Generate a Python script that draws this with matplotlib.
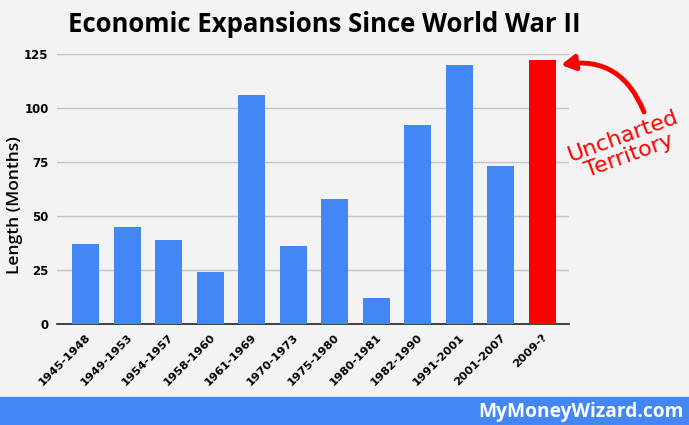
import matplotlib.pyplot as plt

periods = ['1945-1948', '1949-1953', '1954-1957', '1958-1960', '1961-1969',
           '1970-1973', '1975-1980', '1980-1981', '1982-1990', '1991-2001',
           '2001-2007', '2009-?']
months = [37, 45, 39, 24, 106, 36, 58, 12, 92, 120, 73, 122]
bar_colors = ['#4287f5'] * 11 + ['#ff0000']

bg = '#f3f3f3'
fig = plt.figure(figsize=(6.89, 4.25), dpi=100, facecolor=bg)
ax = fig.add_axes([57 / 689, 1 - 324 / 425, 512 / 689, 270 / 425], facecolor=bg)

x = range(len(periods))
ax.bar(x, months, width=0.65, color=bar_colors, zorder=3)
ax.set_xlim(-0.69, len(periods) - 0.35)
ax.set_ylim(0, 125)
ax.set_yticks([0, 25, 50, 75, 100, 125])
ax.yaxis.grid(True, color='#c4c4c4', linewidth=1, zorder=0)
for s in ['top', 'right', 'left']:
    ax.spines[s].set_visible(False)
ax.spines['bottom'].set_color('#222222')
ax.spines['bottom'].set_linewidth(1.2)
ax.tick_params(axis='both', length=0)
ax.tick_params(axis='y', pad=6, labelsize=8.5)
ax.tick_params(axis='x', pad=6, labelsize=8.2)
ax.set_xticks(list(x))
ax.set_xticklabels(periods, rotation=45, ha='right', rotation_mode='anchor',
                   fontweight='bold')
for t in ax.get_yticklabels():
    t.set_fontweight('bold')

fig.text(15 / 689, 1 - 205 / 425, 'Length (Months)', rotation=90,
         ha='center', va='center', fontsize=12.5, fontweight='semibold',
         family='Open Sans')

fig.text(324 / 689, 1 - 24 / 425, 'Economic Expansions Since World War II',
         ha='center', va='center', fontsize=18.5, fontweight='bold',
         family='Open Sans')

# footer band
fig.patches.append(plt.Rectangle((0, 0), 1, 28 / 425, transform=fig.transFigure,
                                 color='#4287f5', zorder=0))
fig.text(684 / 689, 13 / 425, 'MyMoneyWizard.com', ha='right', va='center',
         fontsize=13.8, fontweight='bold', color='white', family='Open Sans')

# annotation
ax.annotate('', xy=(561, 425 - 65), xytext=(644, 425 - 112),
            xycoords='figure pixels', textcoords='figure pixels',
            arrowprops=dict(arrowstyle='-|>,head_length=0.8,head_width=0.45',
                            color='#ff0000', lw=3.5, shrinkA=0, shrinkB=0,
                            connectionstyle='arc3,rad=0.4'),
            annotation_clip=False)
fig.text(626 / 689, 1 - 146 / 425, 'Uncharted\nTerritory', ha='center',
         va='center', fontsize=16, color='#ff0000', rotation=20,
         family='DejaVu Sans', linespacing=1.0)

fig.savefig('out.png', dpi=100, facecolor=bg)
